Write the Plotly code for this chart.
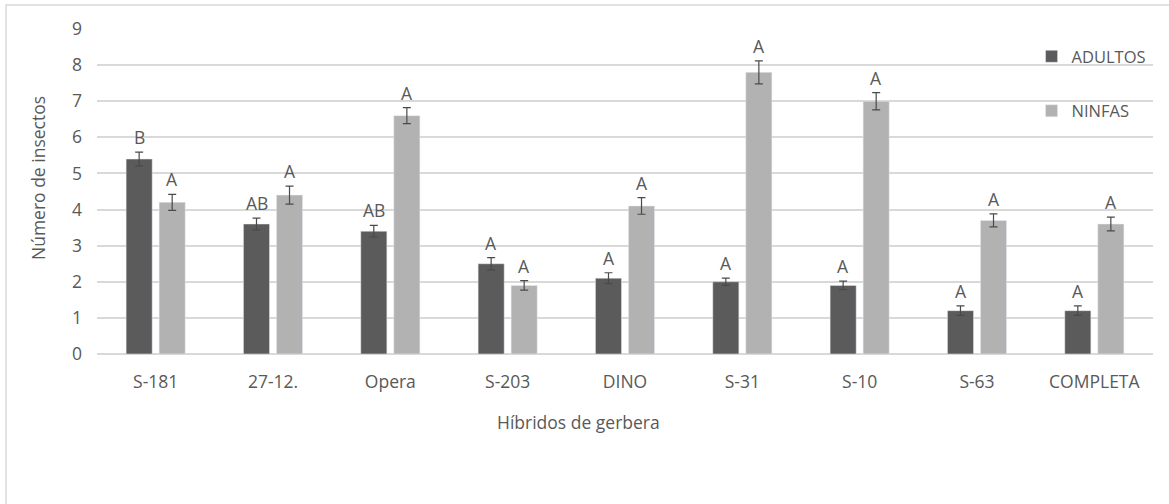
import plotly.graph_objects as go

categories = ["S-181", "27-12.", "Opera", "S-203", "DINO", "S-31", "S-10", "S-63", "COMPLETA"]
adultos = [5.4, 3.6, 3.4, 2.5, 2.1, 2.0, 1.9, 1.2, 1.2]
adultos_err = [0.19, 0.16, 0.16, 0.17, 0.15, 0.10, 0.12, 0.13, 0.13]
ninfas = [4.2, 4.4, 6.6, 1.9, 4.1, 7.8, 7.0, 3.7, 3.6]
ninfas_err = [0.22, 0.25, 0.22, 0.13, 0.23, 0.32, 0.24, 0.18, 0.19]
adultos_letters = ["B", "AB", "AB", "A", "A", "A", "A", "A", "A"]
ninfas_letters = ["A", "A", "A", "A", "A", "A", "A", "A", "A"]

FONT = "Open Sans"
TXT = "#595959"
DARK = "#5B5B5B"
LIGHT = "#B2B2B2"
GRID = "#D9D9D9"
FS = 17.5

fig = go.Figure()
fig.add_trace(go.Bar(
    name="ADULTOS", x=categories, y=adultos, marker_color=DARK, legendgroup="a",
    error_y=dict(type="data", array=adultos_err, color="#4A4A4A", thickness=1.2, width=4),
))
fig.add_trace(go.Bar(
    name="NINFAS", x=categories, y=ninfas, marker_color=LIGHT, legendgroup="n",
    error_y=dict(type="data", array=ninfas_err, color="#4A4A4A", thickness=1.2, width=4),
))

annotations = []
for c, v, e, t in zip(categories, adultos, adultos_err, adultos_letters):
    annotations.append(dict(x=c, y=v + e, xref="x", yref="y", text=t, showarrow=False,
                            xshift=-16.5, yshift=1, yanchor="bottom",
                            font=dict(family=FONT, size=FS, color=TXT)))
for c, v, e, t in zip(categories, ninfas, ninfas_err, ninfas_letters):
    annotations.append(dict(x=c, y=v + e, xref="x", yref="y", text=t, showarrow=False,
                            xshift=16.5, yshift=1, yanchor="bottom",
                            font=dict(family=FONT, size=FS, color=TXT)))

# axis titles
annotations.append(dict(x=(578 - 97) / 1056, y=(354 - 422) / 325, xref="paper", yref="paper",
                        text="Híbridos de gerbera", showarrow=False, xanchor="center", yanchor="middle",
                        font=dict(family=FONT, size=FS, color=TXT)))
annotations.append(dict(x=(38 - 97) / 1056, y=(354 - 178) / 325, xref="paper", yref="paper",
                        text="Número de insectos", showarrow=False, xanchor="center", yanchor="middle",
                        textangle=-90, font=dict(family=FONT, size=FS, color=TXT)))

fig.update_layout(
    width=1169, height=504,
    margin=dict(l=97, r=16, t=29, b=150),
    paper_bgcolor="white", plot_bgcolor="white",
    barmode="group", bargap=0.437, bargroupgap=0.21,
    font=dict(family=FONT, size=FS, color=TXT),
    showlegend=True,
    legend=dict(x=0.885, y=0.969, xanchor="left", yanchor="top",
                bgcolor="rgba(0,0,0,0)", tracegroupgap=30,
                font=dict(family=FONT, size=FS - 1, color=TXT)),
    annotations=annotations,
    shapes=[dict(type="rect", xref="paper", yref="paper",
                 x0=(6 - 97) / 1056, x1=1.2, y0=-1.0, y1=(354 - 5) / 325,
                 line=dict(color=GRID, width=1.5), fillcolor="rgba(0,0,0,0)", layer="below")],
)
fig.update_xaxes(showgrid=False, showline=False, ticks="", tickfont=dict(family=FONT, size=FS, color=TXT),
                 ticklabelstandoff=15)
fig.update_yaxes(range=[0, 9], dtick=1, showgrid=True, gridcolor=GRID, gridwidth=1.5,
                 zeroline=True, zerolinecolor=GRID, zerolinewidth=1.5, showline=False,
                 tickfont=dict(family=FONT, size=FS, color=TXT), ticklabelstandoff=14)

fig.write_html("out.html", config={"displayModeBar": False},
               post_script="document.body.style.margin='0';")
